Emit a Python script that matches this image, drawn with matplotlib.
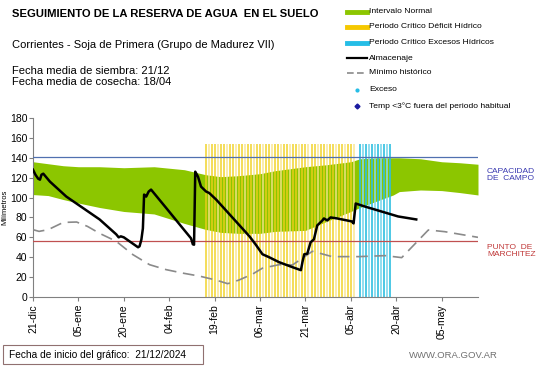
import matplotlib.pyplot as plt
from matplotlib.lines import Line2D
from matplotlib.patches import Rectangle

plt.rcParams['font.family'] = ['Liberation Sans', 'DejaVu Sans']

# días desde el 21-dic-2024
tick_days = [0, 15, 30, 45, 60, 75, 90, 105, 120, 135]
tick_labels = ['21-dic', '05-ene', '20-ene', '04-feb', '19-feb', '06-mar',
               '21-mar', '05-abr', '20-abr', '05-may']

# intervalo normal (banda verde)
band_days = [0, 5, 10, 15, 22, 30, 40, 50, 57, 62, 68, 75, 80, 90, 97, 105,
             108, 114, 119, 121, 128, 135, 141, 147]
band_top = [136, 134, 132, 131, 131, 130, 131, 128, 123, 121, 122, 124, 127,
            131, 133, 136, 139, 140, 140, 140, 139, 136, 135, 133.5]
band_low = [103, 102, 98, 94.5, 90, 86, 83.5, 74, 68, 65, 64, 64, 66, 67, 76,
            86, 90, 97, 102.6, 106, 107.6, 107, 105, 102.6]

# almacenaje
alm_days = [0, 0.8, 1.7, 2.3, 2.8, 3.4, 5.6, 11, 16.5, 22, 27.5, 28.3, 29, 30,
            34.7, 35.2, 35.8, 36.3, 36.7, 37.4, 38.2, 39, 44, 49.5, 52.2, 52.8,
            53.2, 53.6, 54.5, 55.5, 57.2, 58.2, 60.5, 66, 71.5, 73.6, 75.8,
            78, 81.3, 85.7, 88.5, 89, 89.6, 90.6, 91.7, 92.8, 93.9, 94.6,
            95.6, 96.1, 97.2, 98.3, 100.5, 105.3, 105.9, 106.6, 109.6, 115.1,
            120.6, 126.6]
alm_vals = [128, 123, 119, 118, 123, 124, 116, 101, 89.5, 78, 63, 60, 61, 60,
            50, 51, 57.7, 69, 103, 101, 106, 108, 89.5, 69, 59, 53, 52.6, 126,
            121, 111, 106, 104.6, 98, 79.5, 61, 52.6, 43, 40, 35, 30, 27, 35,
            43, 43.5, 55, 58, 72, 74, 77, 79, 77, 80, 79, 76, 74, 94, 91, 86,
            81, 78]

# mínimo histórico
min_days = [0, 2, 5, 10, 14.4, 18, 22, 27.5, 33, 38.5, 44, 49.5, 55, 60.5,
            64.3, 68, 72.5, 75.8, 81.3, 85.7, 89, 92.3, 98.8, 107.5, 116.3,
            121.8, 130.6, 136, 147]
min_vals = [67.7, 66, 67.7, 75, 75.4, 71, 64, 56, 42.6, 32.5, 27.5, 24, 21,
            17, 13.4, 17, 23, 29, 32.5, 32.2, 39, 46, 40.6, 40.6, 41.6, 39.6,
            67.4, 65.7, 60]

capacidad_campo = 141
punto_marchitez = 56
critico_altura = 154
deficit_days = list(range(57, 107))
exceso_days = list(range(108, 119))

fig = plt.figure(figsize=(5.41, 3.68), dpi=100)
ax = fig.add_axes([33 / 541, 1 - 297 / 368, 445 / 541, 179 / 368])

ax.fill_between(band_days, band_low, band_top, color='#8cc600', lw=0, zorder=1)
for i, d in enumerate(deficit_days):
    c = '#f0cf1a' if i % 3 != 1 else '#f8e58c'
    ax.vlines(d, 0, critico_altura, color=c, lw=1.2, alpha=0.85, zorder=2)
for i, d in enumerate(exceso_days):
    c = '#2fbfe0' if i % 2 == 0 else '#7fd8ec'
    ax.vlines(d, 0, critico_altura, color=c, lw=1.2, zorder=2)

ax.axhline(capacidad_campo, color='#5070b0', lw=0.9, zorder=3)
ax.axhline(punto_marchitez, color='#c05050', lw=0.9, zorder=3)
ax.plot(min_days, min_vals, color='#8a8a8a', lw=1.2, ls=(0, (7, 4)), zorder=4)
ax.plot(alm_days, alm_vals, color='black', lw=1.8, zorder=5)

ax.set_xlim(0, 147)
ax.set_ylim(0, 180)
ax.set_yticks(range(0, 181, 20))
ax.tick_params(axis='y', labelsize=7.5, length=3, color='#808080', pad=1)
ax.set_xticks(tick_days)
ax.set_xticklabels(tick_labels, rotation=90, fontsize=7.5)
ax.tick_params(axis='x', length=3, color='#808080', pad=2)
for s in ['top', 'right']:
    ax.spines[s].set_visible(False)
for s in ['left', 'bottom']:
    ax.spines[s].set_color('#808080')
ax.set_ylabel('Milímetros', fontsize=5.5, labelpad=1)

fig.text(12 / 541, 1 - 14 / 368, 'SEGUIMIENTO DE LA RESERVA DE AGUA  EN EL SUELO',
         fontsize=8.1, weight='bold', va='center')
fig.text(12 / 541, 1 - 45 / 368,
         'Corrientes - Soja de Primera (Grupo de Madurez VII)',
         fontsize=8, va='center')
fig.text(12 / 541, 1 - 71 / 368, 'Fecha media de siembra: 21/12',
         fontsize=8, va='center')
fig.text(12 / 541, 1 - 82 / 368, 'Fecha media de cosecha: 18/04',
         fontsize=8, va='center')

# leyenda
leg = [
    ('Intervalo Normal', dict(color='#8cc600', lw=3.5)),
    ('Periodo Crítico Déficit Hídrico', dict(color='#f5c800', lw=3.5)),
    ('Periodo Crítico Excesos Hídricos', dict(color='#25bde6', lw=3.5)),
    ('Almacenaje', dict(color='black', lw=1.6)),
    ('Mínimo histórico', dict(color='#8a8a8a', lw=1.2, ls=(0, (4, 2)))),
]
ys = [11.5, 26.5, 42.5, 58, 73]
for (lab, kw), y in zip(leg, ys):
    yf = 1 - y / 368
    fig.add_artist(Line2D([347 / 541, 367 / 541], [yf, yf], **kw))
    fig.text(369 / 541, yf, lab, fontsize=6.1, va='center')
fig.add_artist(Line2D([357 / 541], [1 - 89.5 / 368], marker='o', ms=2,
                      color='#25bde6', lw=0))
fig.text(369 / 541, 1 - 89.5 / 368, 'Exceso', fontsize=6.1, va='center')
fig.add_artist(Line2D([357 / 541], [1 - 106 / 368], marker='D', ms=2.5,
                      color='#1a1aa0', lw=0))
fig.text(369 / 541, 1 - 106 / 368, 'Temp <3°C fuera del periodo habitual',
         fontsize=6.1, va='center')

fig.text(487 / 541, 1 - 175 / 368, 'CAPACIDAD\nDE  CAMPO', fontsize=6,
         color='#3838b0', va='center', linespacing=1.1)
fig.text(487 / 541, 1 - 251 / 368, 'PUNTO  DE\nMARCHITEZ', fontsize=6,
         color='#c03838', va='center', linespacing=1.1)

fig.add_artist(Rectangle((3 / 541, 1 - 364 / 368), 200 / 541, 19 / 368,
                         fill=False, ec='#907070', lw=0.8))
fig.text(9 / 541, 1 - 354.5 / 368, 'Fecha de inicio del gráfico:  21/12/2024',
         fontsize=7.3, va='center')
fig.text(498 / 541, 1 - 356 / 368, 'WWW.ORA.GOV.AR', fontsize=6.8,
         color='#707070', va='center', ha='right')

fig.savefig('out.png', dpi=100)
